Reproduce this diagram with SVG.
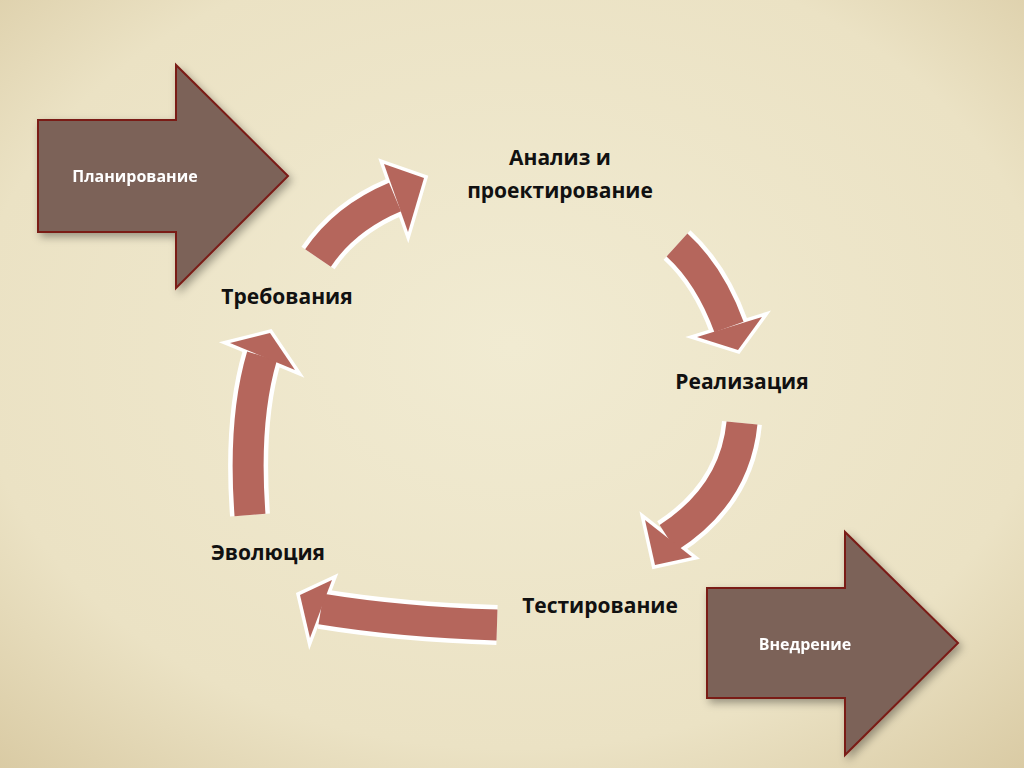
<svg xmlns="http://www.w3.org/2000/svg" width="1024" height="768" viewBox="0 0 1024 768">
<defs>
<radialGradient id="bg" cx="50%" cy="45%" r="75%">
<stop offset="0" stop-color="#f1ebd2"/>
<stop offset="0.7" stop-color="#ebe2c4"/>
<stop offset="1" stop-color="#d9caa3"/>
</radialGradient>
<filter id="sh" x="-20%" y="-20%" width="140%" height="140%">
<feDropShadow dx="3" dy="4" stdDeviation="4" flood-color="#000" flood-opacity="0.35"/>
</filter>
</defs>
<style>
.so{fill:none;stroke:#fff;stroke-width:40}
.sf{fill:none;stroke:#b5665c;stroke-width:31}
.ho{fill:#b5665c;stroke:#fff;stroke-width:7;stroke-linejoin:miter}
.hf{fill:#b5665c}
.lbl{font-family:"Open Sans","Liberation Sans",sans-serif;font-weight:bold;font-size:21px;fill:#111;text-anchor:middle}
.big{fill:#7b6259;stroke:#7a1c18;stroke-width:2}
.wl{font-family:"Open Sans","Liberation Sans",sans-serif;font-weight:bold;font-size:16px;fill:#fff;text-anchor:middle}
</style>
<rect width="1024" height="768" fill="url(#bg)"/>
<g id="planning" filter="url(#sh)">
<polygon class="big" points="38,120 176,120 176,65 288,176 176,288 176,232 38,232"/>
<text class="wl" x="135" y="182">Планирование</text>
</g>
<g id="deploy" filter="url(#sh)">
<polygon class="big" points="707,588 845,588 845,532 958,643 845,755 845,698 707,698"/>
<text class="wl" x="805" y="650">Внедрение</text>
</g>
<g id="connectors">
<g id="c1">
<path class="so" d="M318,258 Q345,218 395,197"/>
<polygon class="ho" points="384,164 424,178 408,232"/>
<path class="sf" d="M318,258 Q345,218 395,197"/>
<polygon class="hf" points="384,164 424,178 408,232"/>
</g>
<g id="c2">
<path class="so" d="M677,245 Q710,275 729,327"/>
<polygon class="ho" points="697,337 762,317 738,350"/>
<path class="sf" d="M677,245 Q710,275 729,327"/>
<polygon class="hf" points="697,337 762,317 738,350"/>
</g>
<g id="c3">
<path class="so" d="M742,423 Q735,495 668,538"/>
<polygon class="ho" points="645,520 692,557 655,565"/>
<path class="sf" d="M742,423 Q735,495 668,538"/>
<polygon class="hf" points="645,520 692,557 655,565"/>
</g>
<g id="c4">
<path class="so" d="M497,625 Q400,622 321,609"/>
<polygon class="ho" points="332,580 310,638 300,595"/>
<path class="sf" d="M497,625 Q400,622 321,609"/>
<polygon class="hf" points="332,580 310,638 300,595"/>
</g>
<g id="c5">
<path class="so" d="M250,515 Q243,420 262,356"/>
<polygon class="ho" points="230,343 295,370 270,333"/>
<path class="sf" d="M250,515 Q243,420 262,356"/>
<polygon class="hf" points="230,343 295,370 270,333"/>
</g>
</g>
<g id="analysis"><text class="lbl" x="560" y="165">Анализ и</text><text class="lbl" x="560" y="198">проектирование</text></g>
<g id="requirements"><text class="lbl" x="287" y="304">Требования</text></g>
<g id="implementation"><text class="lbl" x="742" y="389">Реализация</text></g>
<g id="testing"><text class="lbl" x="600" y="613">Тестирование</text></g>
<g id="evolution"><text class="lbl" x="268" y="560">Эволюция</text></g>
</svg>
